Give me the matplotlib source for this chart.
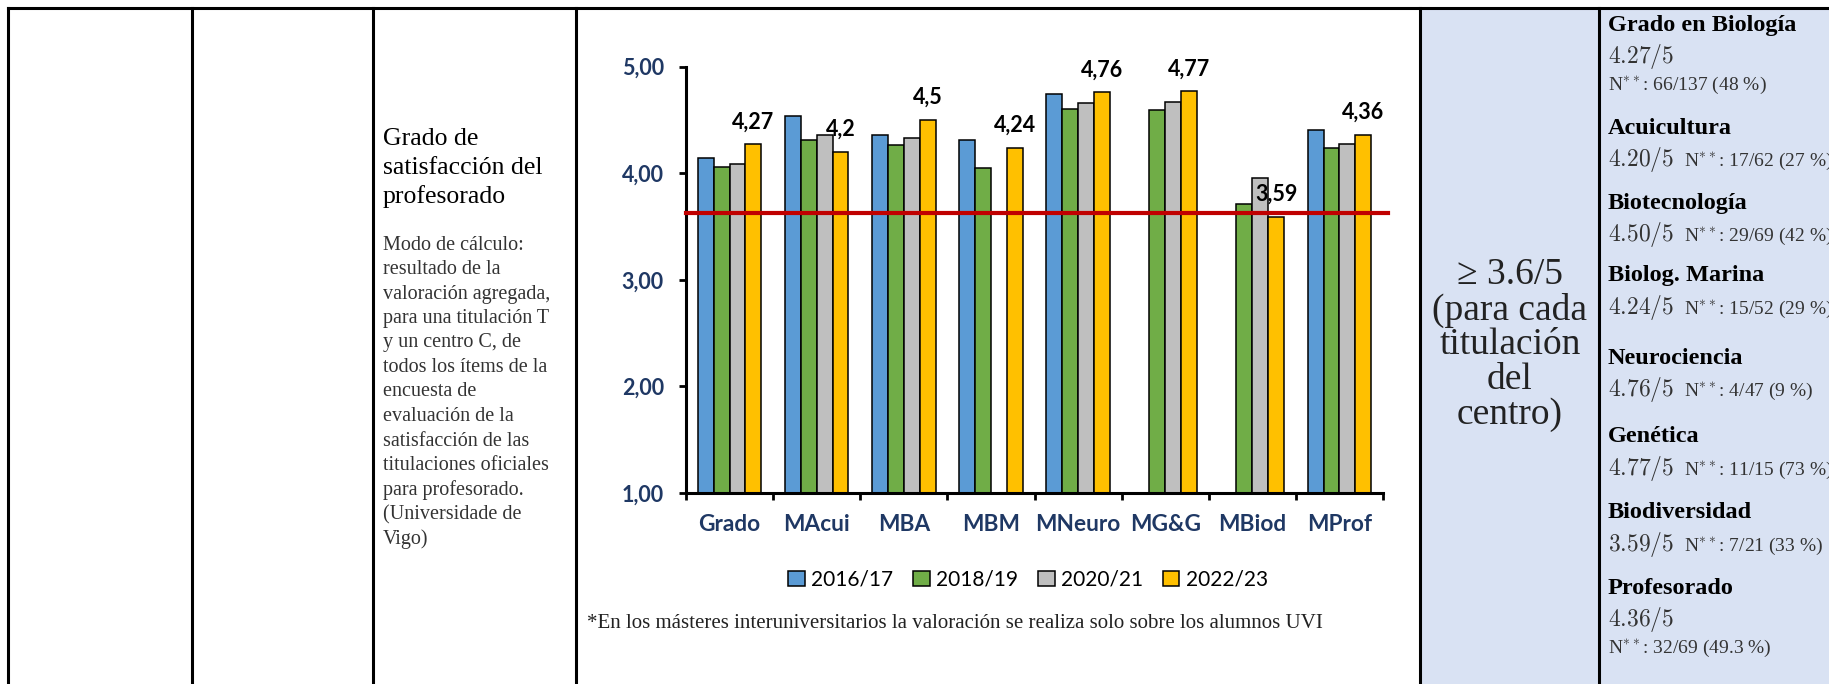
import numpy as np
import matplotlib
matplotlib.use("Agg")
from matplotlib import pyplot as plt
from matplotlib.patches import Rectangle
from matplotlib.ticker import FuncFormatter

plt.rcParams['mathtext.fontset'] = 'cm'

# chart data
categories = ['Grado', 'MAcui', 'MBA', 'MBM', 'MNeuro', 'MG&G', 'MBiod', 'MProf']
years = ['2016/17', '2018/19', '2020/21', '2022/23']
v1617 = [4.14, 4.54, 4.36, 4.31, 4.74, np.nan, np.nan, 4.40]
v1819 = [4.06, 4.31, 4.26, 4.05, 4.60, 4.59, 3.71, 4.24]
v2021 = [4.09, 4.36, 4.33, np.nan, 4.66, 4.67, 3.95, 4.27]
v2223 = [4.27, 4.20, 4.50, 4.24, 4.76, 4.77, 3.59, 4.36]
last_labels = ['4,27', '4,2', '4,5', '4,24', '4,76', '4,77', '3,59', '4,36']
threshold = 3.63
colors = ['#5b9bd5', '#70ad47', '#bfbfbf', '#ffc000']

# table text
title_lines = ['Grado de', 'satisfacción del', 'profesorado']
body_lines = ['Modo de cálculo:', 'resultado de la', 'valoración agregada,',
              'para una titulación T', 'y un centro C, de', 'todos los ítems de la',
              'encuesta de', 'evaluación de la', 'satisfacción de las',
              'titulaciones oficiales', 'para profesorado.', '(Universidade de', 'Vigo)']
target_lines = ['≥ 3.6/5', '(para cada', 'titulación', 'del', 'centro)']
res_names = ['Grado en Biología', 'Acuicultura', 'Biotecnología', 'Biolog. Marina',
             'Neurociencia', 'Genética', 'Biodiversidad', 'Profesorado']
res_vals = ['4.27/5', '4.20/5', '4.50/5', '4.24/5', '4.76/5', '4.77/5', '3.59/5', '4.36/5']
res_n = ['66/137 (48 %)', '17/62 (27 %)', '29/69 (42 %)', '15/52 (29 %)',
         '4/47 (9 %)', '11/15 (73 %)', '7/21 (33 %)', '32/69 (49.3 %)']
footnote = '*En los másteres interuniversitarios la valoración se realiza solo sobre los alumnos UVI'

W, H = 1829, 684
fig = plt.figure(figsize=(W / 100, H / 100), dpi=100)
fig.patch.set_facecolor('white')

bg = fig.add_axes([0, 0, 1, 1])
bg.set_xlim(0, W)
bg.set_ylim(H, 0)
bg.axis('off')

# table cells / borders
bg.add_patch(Rectangle((1420, 8), W - 1420, H, facecolor='#d9e2f3', edgecolor='none'))
bg.plot([8, W], [8, 8], color='black', lw=2.2)
for xl in [8, 192, 373, 576, 1420, 1599]:
    bg.plot([xl, xl], [8, H + 5], color='black', lw=2.2)

serif = ['Liberation Serif', 'DejaVu Serif']
for i, t in enumerate(title_lines):
    bg.text(383, 139 + i * 29, t, fontsize=18.5, family=serif, va='center', ha='left', color='black')
for i, t in enumerate(body_lines):
    bg.text(383, 245 + i * 24.5, t, fontsize=14.5, family=serif, va='center', ha='left', color='#333333')

for i, t in enumerate(target_lines):
    bg.text(1510, 275 + i * 35, t, fontsize=27, family=serif, va='center', ha='center', color='#222222')

head_y = [25, 128, 203, 276, 358, 437, 513, 588]
for i, name in enumerate(res_names):
    y0 = head_y[i]
    bg.text(1608, y0, name, fontsize=17.5, family=serif, weight='bold', va='center', color='black')
    bg.text(1608, y0 + 38, '$\\mathrm{' + res_vals[i] + '}$', fontsize=17, va='baseline', color='#333333')
    if i in (0, len(res_names) - 1):
        bg.text(1608, y0 + 65, 'N$^{**}$: ' + res_n[i], fontsize=14, family=serif, va='baseline', color='#333333')
    else:
        bg.text(1684, y0 + 38, 'N$^{**}$: ' + res_n[i], fontsize=14, family=serif, va='baseline', color='#333333')

bg.text(587, 623, footnote, fontsize=15, family=serif, va='center', ha='left', color='#222222')

# bar chart
x0, x1, yb, yt = 686, 1383, 493, 66.5
ax = fig.add_axes([x0 / W, (H - yb) / H, (x1 - x0) / W, (yb - yt) / H])
ax.patch.set_alpha(0)
x = np.arange(len(categories))
bw = 0.182
series = [v1617, v1819, v2021, v2223]
bars = []
for i, vals in enumerate(series):
    b = ax.bar(x + (i - 1.5) * bw, vals, bw, color=colors[i], edgecolor='black', linewidth=1.1,
               label=years[i], zorder=2)
    bars.append(b)

ax.plot([-0.5, 7.56], [threshold, threshold], color='#c00000', lw=3, zorder=3, clip_on=False)

for i, lab in enumerate(last_labels):
    ax.annotate(lab, (x[i] + 1.5 * bw, v2223[i]), xytext=(0, 16), textcoords='offset points',
                ha='center', va='center', fontsize=15.5, weight='bold', family=['Lato', 'DejaVu Sans'])

ax.set_xlim(-0.5, 7.5)
ax.set_ylim(1, 5)
ax.set_yticks([1, 2, 3, 4, 5])
ax.yaxis.set_major_formatter(FuncFormatter(lambda v, p: f'{v:.2f}'.replace('.', ',')))
ax.tick_params(axis='y', length=5, width=2, pad=11, labelsize=15.5, labelcolor='#1f3864')
for lab in ax.get_yticklabels():
    lab.set_fontweight('bold')
    lab.set_family(['Lato', 'DejaVu Sans'])

ax.set_xticks(np.arange(-0.5, 8, 1))
ax.set_xticklabels([])
ax.set_xticks(x, minor=True)
ax.set_xticklabels(categories, minor=True)
ax.tick_params(axis='x', which='major', length=5, width=2)
ax.tick_params(axis='x', which='minor', length=0, pad=15, labelsize=16.3, labelcolor='#1f3864')
for lab in ax.get_xticklabels(minor=True):
    lab.set_fontweight('bold')
    lab.set_family(['Lato', 'DejaVu Sans'])

for s in ['top', 'right']:
    ax.spines[s].set_visible(False)
for s in ['left', 'bottom']:
    ax.spines[s].set_linewidth(2.2)

fig.legend(handles=bars, labels=years, loc='center', bbox_to_anchor=(1028 / W, 1 - 580 / H),
           ncol=4, frameon=False, handlelength=0.8, handleheight=0.7, handletextpad=0.3,
           columnspacing=0.95, prop={'family': ['Lato', 'DejaVu Sans'], 'size': 15})

fig.savefig('out.png', dpi=100)
